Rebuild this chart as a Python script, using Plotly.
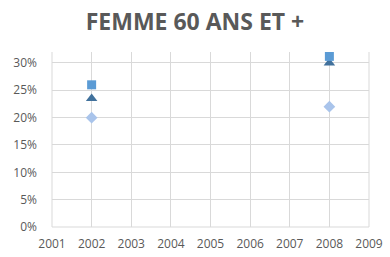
import plotly.graph_objects as go

years = [2002, 2008]
serie_carre = [0.26, 0.312]
serie_triangle = [0.235, 0.30]
serie_losange = [0.20, 0.22]
x_ticks = list(range(2001, 2010))
y_ticks = [0, 0.05, 0.10, 0.15, 0.20, 0.25, 0.30]
y_labels = ["0%", "5%", "10%", "15%", "20%", "25%", "30%"]

fig = go.Figure()
fig.add_trace(go.Scatter(x=years, y=serie_losange, mode="markers", name="Série 3",
                         marker=dict(symbol="diamond", size=9, color="#A9C4EB")))
fig.add_trace(go.Scatter(x=years, y=serie_triangle, mode="markers", name="Série 2",
                         marker=dict(symbol="triangle-up", size=10, color="#41719C")))
fig.add_trace(go.Scatter(x=years, y=serie_carre, mode="markers", name="Série 1",
                         marker=dict(symbol="square", size=9, color="#5B9BD5")))

fig.update_layout(
    width=390, height=257,
    margin=dict(l=52, r=21, t=52, b=30),
    paper_bgcolor="white", plot_bgcolor="white",
    showlegend=False,
    title=dict(text="<b>FEMME 60 ANS ET +</b>", x=0.5, xanchor="center", y=0.915, yanchor="middle",
               font=dict(family="Open Sans", size=23, color="#595959")),
    font=dict(family="Open Sans", size=12, color="#595959"),
    xaxis=dict(range=[2001, 2009], tickvals=x_ticks, ticktext=[str(v) for v in x_ticks],
               showgrid=True, gridcolor="#D9D9D9", gridwidth=1, zeroline=False,
               showline=False, ticks="", ticklabelstandoff=8, automargin=False),
    yaxis=dict(range=[0, 0.32], tickvals=y_ticks, ticktext=y_labels,
               showgrid=True, gridcolor="#D9D9D9", gridwidth=1, zeroline=False,
               showline=False, ticks="", ticklabelstandoff=14, automargin=False),
)
fig.add_shape(type="line", xref="paper", yref="paper", x0=0, x1=1, y0=0, y1=0,
              line=dict(color="#D9D9D9", width=1), layer="below")
fig.add_shape(type="line", xref="paper", yref="paper", x0=1, x1=1, y0=0, y1=1,
              line=dict(color="#D9D9D9", width=1), layer="below")
fig.add_shape(type="line", xref="paper", yref="paper", x0=0, x1=0, y0=0, y1=1,
              line=dict(color="#D9D9D9", width=1), layer="below")
fig.write_html("out.html")
